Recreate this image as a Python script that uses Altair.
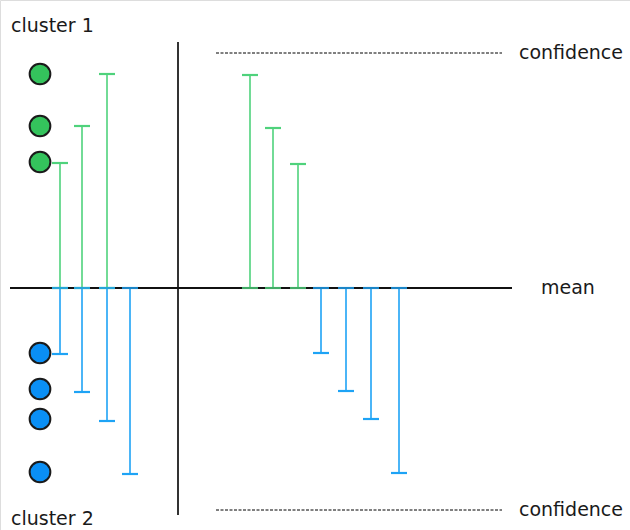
import altair as alt
import pandas as pd

# Diagram coordinates (x: horizontal position, y: offset from the mean)
green_left_x = [60, 82, 107]
green_left_top = [125, 162, 214]
blue_left_x = [60, 82, 107, 130]
blue_left_bottom = [-66, -104, -133, -186]

green_right_x = [250, 273, 298]
green_right_top = [213, 160, 124]
blue_right_x = [321, 346, 371, 399]
blue_right_bottom = [-65, -103, -131, -185]

green_dots_y = [214, 162, 126]
blue_dots_y = [-65, -101, -131, -184]
dots_x = 40

mean_span = [10, 512]
divider_x = 178
divider_span = [246, -227]
conf_span = [216, 502]
conf_upper = 235
conf_lower = -222

labels = ["cluster 1", "cluster 2", "confidence", "confidence", "mean"]
label_x = [11, 11, 519, 519, 541]
label_y = [262, -231, 235, -222, 0]

GREEN_LINE = "#4fd27c"
GREEN_DOT = "#34c35c"
BLUE_LINE = "#1ea3f5"
BLUE_DOT = "#0a8ff5"

xs = alt.Scale(domain=[0, 630], nice=False, zero=False)
ys = alt.Scale(domain=[-242, 288], nice=False, zero=False)

bars = pd.DataFrame({
    "x": green_left_x + green_right_x + blue_left_x + blue_right_x,
    "v": green_left_top + green_right_top + blue_left_bottom + blue_right_bottom,
    "c": ["green"] * 6 + ["blue"] * 8,
})
bars["zero"] = 0

cscale = alt.Scale(domain=["green", "blue"], range=[GREEN_LINE, BLUE_LINE])

X = lambda f: alt.X(f, type="quantitative", scale=xs, axis=None)
Y = lambda f: alt.Y(f, type="quantitative", scale=ys, axis=None)

stems = alt.Chart(bars).mark_rule(strokeWidth=1.6).encode(
    x=X("x"), y=Y("zero"), y2="v",
    color=alt.Color("c:N", scale=cscale, legend=None))

caps_end = alt.Chart(bars).transform_calculate(
    x1="datum.x - 8", x2="datum.x + 8").mark_rule(strokeWidth=2.2).encode(
    x=X("x1"), x2="x2", y=Y("v"),
    color=alt.Color("c:N", scale=cscale, legend=None))

caps_mean = alt.Chart(bars).transform_calculate(
    x1="datum.x - 8", x2="datum.x + 8").mark_rule(strokeWidth=2.2, opacity=0.8).encode(
    x=X("x1"), x2="x2", y=Y("zero"),
    color=alt.Color("c:N", scale=cscale, legend=None))

mean_df = pd.DataFrame({"x1": [mean_span[0]], "x2": [mean_span[1]], "y": [0]})
mean_line = alt.Chart(mean_df).mark_rule(strokeWidth=2, color="#111111").encode(
    x=X("x1"), x2="x2", y=Y("y"))

div_df = pd.DataFrame({"x": [divider_x], "y1": [divider_span[0]], "y2": [divider_span[1]]})
divider = alt.Chart(div_df).mark_rule(strokeWidth=2, color="#333333").encode(
    x=X("x"), y=Y("y1"), y2="y2")

conf_df = pd.DataFrame({"x1": [conf_span[0]] * 2, "x2": [conf_span[1]] * 2,
                        "y": [conf_upper, conf_lower]})
conf = alt.Chart(conf_df).mark_rule(strokeWidth=1, color="#000000",
                                     strokeDash=[3, 1.5]).encode(
    x=X("x1"), x2="x2", y=Y("y"))

dots_df = pd.DataFrame({
    "x": [dots_x] * 7,
    "y": green_dots_y + blue_dots_y,
    "c": ["green"] * 3 + ["blue"] * 4,
})
dots = alt.Chart(dots_df).mark_point(filled=True, size=430, opacity=1,
                                      stroke="#1a1a1a", strokeWidth=2).encode(
    x=X("x"), y=Y("y"),
    fill=alt.Fill("c:N", scale=alt.Scale(domain=["green", "blue"],
                                         range=[GREEN_DOT, BLUE_DOT]), legend=None))

text_df = pd.DataFrame({"t": labels, "x": label_x, "y": label_y})
texts = alt.Chart(text_df).mark_text(align="left", baseline="middle", fontSize=19,
                                     font="DejaVu Sans", color="#1a1a1a").encode(
    x=X("x"), y=Y("y"), text="t:N")

chart = alt.layer(conf, divider, stems, caps_end, mean_line, caps_mean, dots, texts).properties(
    width=630, height=530,
    autosize=alt.AutoSizeParams(type="none"),
    padding=0,
).configure_view(stroke=None).configure(background="white")

chart.save("out.html", embed_options={"renderer": "svg", "actions": False})
